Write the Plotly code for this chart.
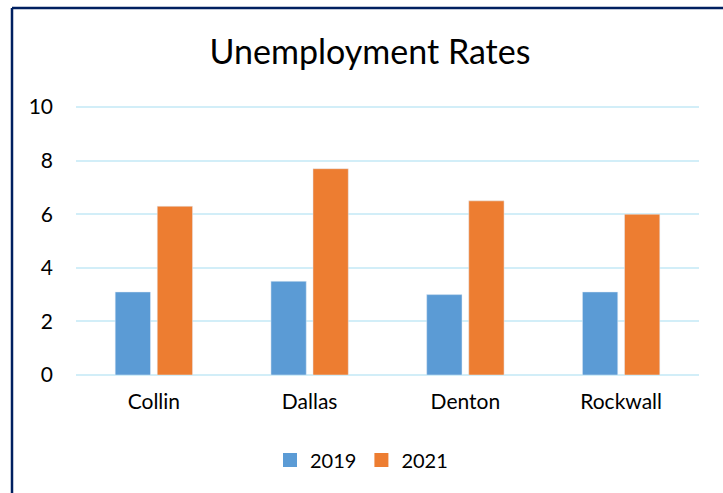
import plotly.graph_objects as go

categories = ["Collin", "Dallas", "Denton", "Rockwall"]
rates_2019 = [3.1, 3.5, 3.0, 3.1]
rates_2021 = [6.3, 7.7, 6.5, 6.0]
y_ticks = [0, 2, 4, 6, 8, 10]

W, H = 723, 493
L, R, T, B = 76, 24, 106, 118
pw, ph = W - L - R, H - T - B

def px_x(x):
    return (x - L) / pw

def px_y(y):
    return (H - B - y) / ph

font = "Lato, Carlito, Calibri, sans-serif"
navy = "#002060"
c2019, c2021 = "#5B9BD5", "#ED7D31"

fig = go.Figure()
fig.add_trace(go.Bar(name="2019", x=categories, y=rates_2019, marker_color=c2019,
                     showlegend=False))
fig.add_trace(go.Bar(name="2021", x=categories, y=rates_2021, marker_color=c2021,
                     showlegend=False))
# legend swatches (square markers, no data drawn)
for name, col in (("2019", c2019), ("2021", c2021)):
    fig.add_trace(go.Scatter(name=name, x=[None], y=[None], mode="markers",
                             marker=dict(symbol="square", size=14, color=col),
                             showlegend=True))

fig.update_layout(
    width=W, height=H,
    margin=dict(l=L, r=R, t=T, b=B),
    paper_bgcolor="white", plot_bgcolor="white",
    barmode="group", bargap=0.46, bargroupgap=0.16,
    font=dict(family=font, size=20, color="#000000"),
    title=dict(text="Unemployment Rates", x=370 / W, xanchor="center", xref="container",
               y=1 - 52 / H, yanchor="middle", yref="container",
               font=dict(family=font, size=34, color="#000000")),
    showlegend=True,
    legend=dict(orientation="h", x=0.5, xanchor="center", xref="container",
                y=1 - 460 / H, yanchor="middle", yref="container",
                font=dict(family=font, size=20), itemwidth=30, traceorder="normal"),
    xaxis=dict(type="category", showgrid=False, showline=False, zeroline=False, ticks="",
               tickfont=dict(family=font, size=21), ticklabelstandoff=12),
    yaxis=dict(range=[0, 10.04], tickvals=y_ticks, showgrid=True, gridcolor="#D2EEF8",
               gridwidth=2, zeroline=True, zerolinecolor="#D2EEF8", zerolinewidth=2,
               showline=False, ticks="", tickfont=dict(family=font, size=21),
               ticklabelstandoff=22),
    shapes=[
        dict(type="line", xref="paper", yref="paper", x0=px_x(12), x1=px_x(725),
             y0=px_y(8), y1=px_y(8), line=dict(color=navy, width=2.5)),
        dict(type="line", xref="paper", yref="paper", x0=px_x(12), x1=px_x(12),
             y0=px_y(8), y1=px_y(495), line=dict(color=navy, width=2.5)),
    ],
)

fig.write_html("out.html")
